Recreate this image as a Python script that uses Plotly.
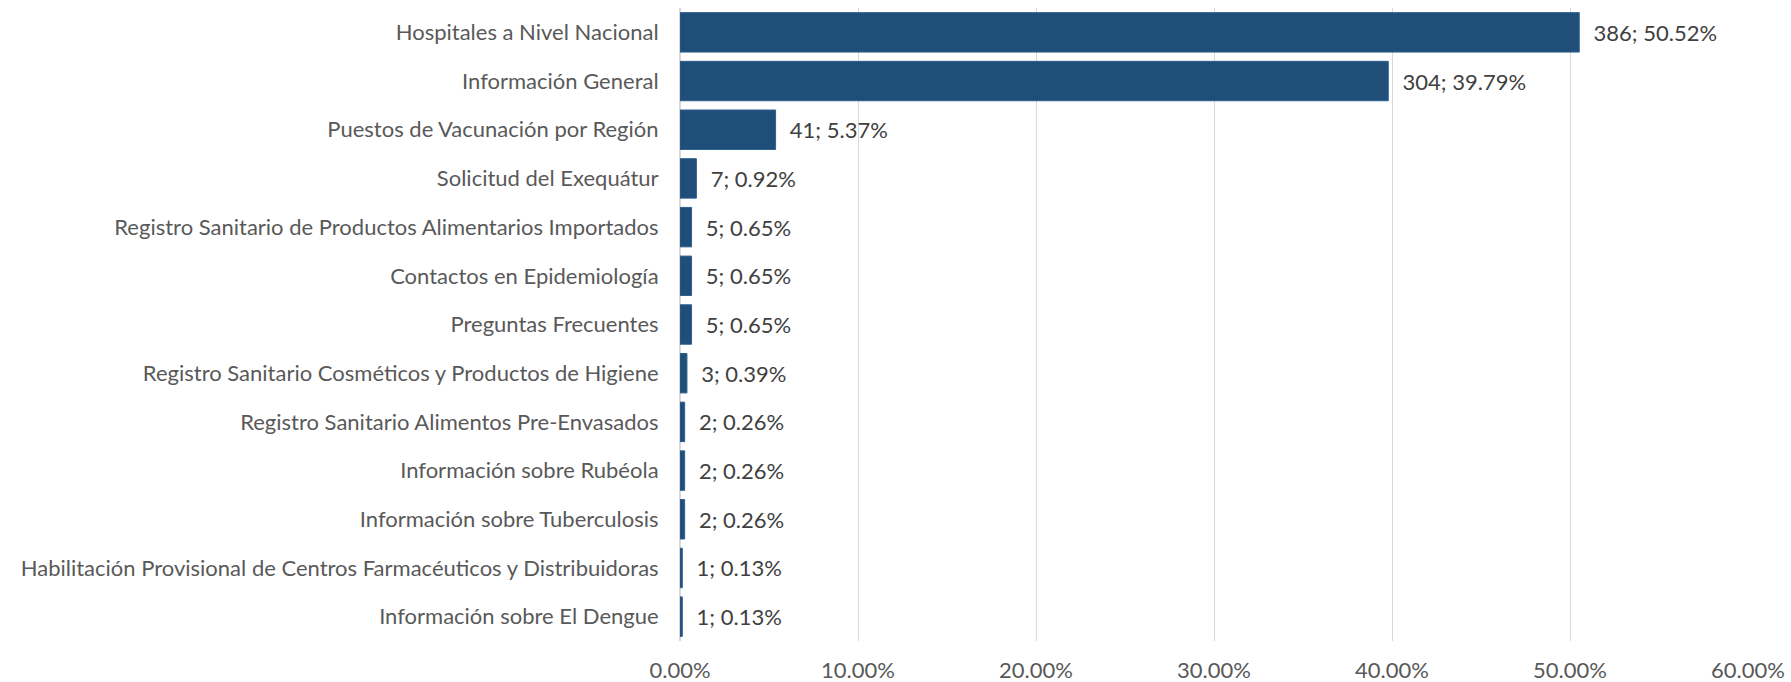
import plotly.graph_objects as go

categories = [
    'Hospitales a Nivel Nacional',
    'Información General',
    'Puestos de Vacunación por Región',
    'Solicitud del Exequátur',
    'Registro Sanitario de Productos Alimentarios Importados',
    'Contactos en Epidemiología',
    'Preguntas Frecuentes',
    'Registro Sanitario Cosméticos y Productos de Higiene',
    'Registro Sanitario Alimentos Pre-Envasados',
    'Información sobre Rubéola',
    'Información sobre Tuberculosis',
    'Habilitación Provisional de Centros Farmacéuticos y Distribuidoras',
    'Información sobre El Dengue',
]
counts = [386, 304, 41, 7, 5, 5, 5, 3, 2, 2, 2, 1, 1]
percents = [50.52, 39.79, 5.37, 0.92, 0.65, 0.65, 0.65, 0.39, 0.26, 0.26, 0.26, 0.13, 0.13]

xticks = [0, 10, 20, 30, 40, 50, 60]
xtick_labels = ['0.00%', '10.00%', '20.00%', '30.00%', '40.00%', '50.00%', '60.00%']

font_family = 'Lato, Open Sans, sans-serif'
text_color = '#595959'
fsize = 22

# leading nbsp's push the data label away from the bar end
labels = ['\u00a0\u00a0' + str(c) + '; ' + '%.2f' % p + '%' for c, p in zip(counts, percents)]

fig = go.Figure(go.Bar(
    x=percents,
    y=categories,
    orientation='h',
    marker=dict(color='#1F4E79', line=dict(color='#2E5F8E', width=1)),
    text=labels,
    textposition='outside',
    textfont=dict(family=font_family, size=fsize, color='#404040'),
    cliponaxis=False,
    hoverinfo='skip',
))

fig.update_layout(
    width=1791,
    height=682,
    margin=dict(l=680, r=43, t=8, b=41),
    paper_bgcolor='white',
    plot_bgcolor='white',
    bargap=0.19,
    showlegend=False,
    font=dict(family=font_family, size=fsize, color=text_color),
)
fig.update_xaxes(
    range=[0, 60],
    tickvals=xticks,
    ticktext=xtick_labels,
    showgrid=True,
    gridcolor='#D9D9D9',
    gridwidth=1,
    zeroline=True,
    zerolinecolor='#D9D9D9',
    showline=False,
    ticks='outside',
    ticklen=10,
    tickcolor='rgba(0,0,0,0)',
    automargin=False,
    tickfont=dict(family=font_family, size=fsize, color=text_color),
)
fig.update_yaxes(
    autorange='reversed',
    categoryorder='array',
    categoryarray=categories,
    ticks='outside',
    ticklen=16,
    tickcolor='rgba(0,0,0,0)',
    showgrid=False,
    automargin=False,
    tickfont=dict(family=font_family, size=fsize, color=text_color),
)

# drop the default 8px body margin so the figure fills the window
fig.write_html(
    'out.html',
    config={'displayModeBar': False},
    post_script="document.body.style.margin='0';document.body.style.overflow='hidden';",
)
